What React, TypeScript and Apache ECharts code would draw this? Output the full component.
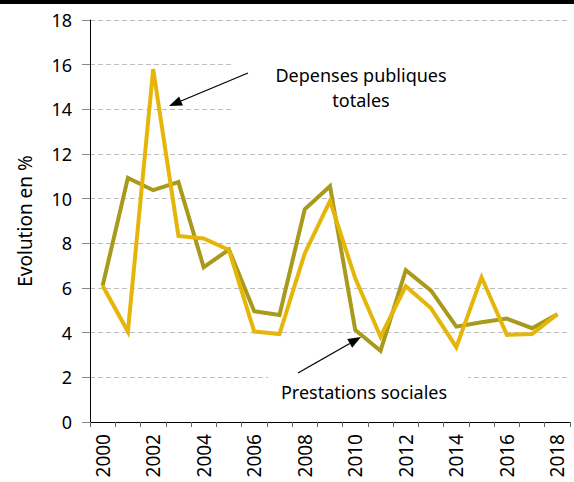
import React, { useEffect, useRef } from "react";
import * as echarts from "echarts";

const years = ["2000","2001","2002","2003","2004","2005","2006","2007","2008","2009","2010","2011","2012","2013","2014","2015","2016","2017","2018"];
const depensesPubliques = [6.1, 4.05, 15.8, 8.33, 8.22, 7.7, 4.05, 3.94, 7.55, 9.9, 6.43, 3.82, 6.08, 5.09, 3.35, 6.48, 3.9, 3.94, 4.83];
const prestationsSociales = [6.1, 10.93, 10.38, 10.74, 6.93, 7.72, 4.96, 4.79, 9.52, 10.56, 4.12, 3.19, 6.8, 5.88, 4.27, 4.47, 4.63, 4.2, 4.83];
const yAxisTitle = "Evolution en %";
const labelDepenses = ["Depenses publiques", "totales"];
const labelPrestations = "Prestations sociales";

const FONT = "'Noto Sans', 'Open Sans', sans-serif";

function arrow(x1: number, y1: number, x2: number, y2: number) {
  const dx = x2 - x1, dy = y2 - y1;
  const len = Math.sqrt(dx * dx + dy * dy);
  const ux = dx / len, uy = dy / len;
  const hl = 13, hw = 5;
  const bx = x2 - ux * hl, by = y2 - uy * hl;
  return [
    { type: "line", z: 10, shape: { x1, y1, x2: bx, y2: by }, style: { stroke: "#000", lineWidth: 1.3 } },
    { type: "polygon", z: 10, shape: { points: [[x2, y2], [bx - uy * hw, by + ux * hw], [bx + uy * hw, by - ux * hw]] }, style: { fill: "#000" } },
  ];
}

export default function App() {
  const ref = useRef<HTMLDivElement>(null);
  useEffect(() => {
    if (!ref.current) return;
    const chart = echarts.init(ref.current, null, { renderer: "svg" });
    chart.setOption({
      animation: false,
      backgroundColor: "#fff",
      grid: { left: 90, right: 4, top: 20, bottom: 60 },
      xAxis: {
        type: "category",
        data: years,
        boundaryGap: true,
        axisLine: { lineStyle: { color: "#000", width: 1 } },
        axisTick: { show: true, interval: 0, length: 5, lineStyle: { color: "#666" } },
        axisLabel: { interval: 1, rotate: 90, margin: 12, color: "#000", fontSize: 19, fontFamily: FONT },
        splitLine: { show: false },
      },
      yAxis: {
        type: "value",
        min: 0,
        max: 18,
        interval: 2,
        name: yAxisTitle,
        nameLocation: "middle",
        nameRotate: 90,
        nameGap: 56,
        nameTextStyle: { color: "#000", fontSize: 19, fontFamily: FONT },
        axisLine: { show: true, lineStyle: { color: "#000", width: 1 } },
        axisTick: { show: true, length: 8, lineStyle: { color: "#888" } },
        axisLabel: { margin: 18, color: "#000", fontSize: 18, fontFamily: FONT },
        splitLine: { show: true, lineStyle: { color: "#bdbdbd", type: [5, 3], width: 1 } },
      },
      series: [
        {
          name: "Prestations sociales",
          type: "line",
          data: prestationsSociales,
          symbol: "none",
          z: 3,
          lineStyle: { color: "#A89A1A", width: 4, join: "miter" },
        },
        {
          name: "Depenses publiques totales",
          type: "line",
          data: depensesPubliques,
          symbol: "none",
          z: 4,
          lineStyle: { color: "#E6B50A", width: 4, join: "miter" },
        },
      ],
      graphic: [
        { type: "rect", z: 1, shape: { x: 0, y: 0, width: 574, height: 4 }, style: { fill: "#000" } },
        { type: "rect", z: 1, shape: { x: 233, y: 55, width: 341, height: 60 }, style: { fill: "#fff" } },
        { type: "rect", z: 1, shape: { x: 268, y: 368, width: 200, height: 36 }, style: { fill: "#fff" } },
        { type: "text", z: 10, x: 361, y: 75, style: { text: labelDepenses[0], font: `18px ${FONT}`, fill: "#000", align: "center", verticalAlign: "middle" } },
        { type: "text", z: 10, x: 361, y: 100, style: { text: labelDepenses[1], font: `18px ${FONT}`, fill: "#000", align: "center", verticalAlign: "middle" } },
        { type: "text", z: 10, x: 364, y: 392, style: { text: labelPrestations, font: `18px ${FONT}`, fill: "#000", align: "center", verticalAlign: "middle" } },
        ...arrow(248, 73, 169, 106),
        ...arrow(298, 373, 361, 337),
      ],
    });
    return () => chart.dispose();
  }, []);
  return <div ref={ref} style={{ width: 574, height: 482, position: "absolute", left: 0, top: 0 }} />;
}
